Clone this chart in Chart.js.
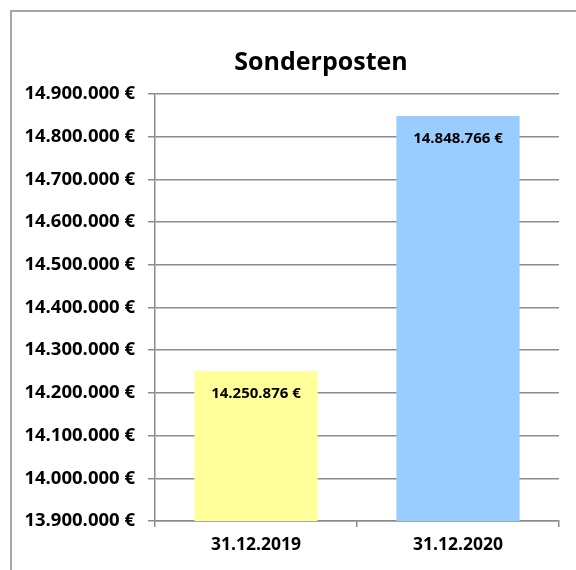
<!DOCTYPE html>
<html>
<head>
<meta charset="utf-8">
<script src="https://cdn.jsdelivr.net/npm/chart.js@4"></script>
<style>
  html, body { margin: 0; padding: 0; background: #ffffff; }
  #wrap { position: relative; width: 576px; height: 570px; overflow: hidden; }
  #frame { position: absolute; left: 10px; top: 10px; width: 700px; height: 700px;
           border-left: 2px solid #a6a6a6; border-top: 2px solid #a6a6a6; box-sizing: border-box; }
  #c { position: absolute; left: 0; top: 0; }
</style>
</head>
<body>
<div id="wrap">
  <div id="frame"></div>
  <canvas id="c" width="576" height="570"></canvas>
</div>
<script>
const categories = ["31.12.2019", "31.12.2020"];
const values = [14250876, 14848766];
const barColors = ["#FFFF99", "#99CCFF"];
const chartTitle = "Sonderposten";
const yMin = 13900000;
const yMax = 14900000;
const yStep = 100000;

function fmtDE(n) {
  return String(Math.round(n)).replace(/\B(?=(\d{3})+(?!\d))/g, ".");
}

const FONT = "'Open Sans', 'Liberation Sans', sans-serif";
const GRID = "#8c8c8c";

const titlePlugin = {
  id: "centeredTitle",
  afterDraw(chart) {
    const ctx = chart.ctx;
    ctx.save();
    ctx.font = "bold 25px " + FONT;
    ctx.fillStyle = "#000000";
    ctx.textAlign = "center";
    ctx.textBaseline = "middle";
    ctx.fillText(chartTitle, 321, 63);
    ctx.restore();
  }
};

const dataLabelPlugin = {
  id: "barValueLabels",
  afterDatasetsDraw(chart) {
    const ctx = chart.ctx;
    const meta = chart.getDatasetMeta(0);
    ctx.save();
    ctx.font = "bold 15px " + FONT;
    ctx.fillStyle = "#000000";
    ctx.textAlign = "center";
    ctx.textBaseline = "middle";
    meta.data.forEach((bar, i) => {
      ctx.fillText(fmtDE(values[i]) + " \u20AC", bar.x, bar.y + 23);
    });
    ctx.restore();
  }
};

new Chart(document.getElementById("c"), {
  type: "bar",
  data: {
    labels: categories,
    datasets: [{
      data: values,
      backgroundColor: barColors,
      borderWidth: 0,
      barPercentage: 0.61,
      categoryPercentage: 1.0
    }]
  },
  options: {
    responsive: false,
    animation: false,
    layout: { padding: { top: 94, left: 0, right: 17, bottom: 0 } },
    plugins: {
      legend: { display: false },
      tooltip: { enabled: false },
      title: { display: false }
    },
    scales: {
      x: {
        offset: true,
        grid: {
          offset: true,
          drawOnChartArea: false,
          drawTicks: true,
          tickLength: 6,
          color: GRID,
          lineWidth: 1.5
        },
        border: { display: true, color: GRID, width: 1.5 },
        ticks: {
          color: "#000000",
          padding: 8,
          font: { family: FONT, size: 17.5, weight: "bold" }
        },
        afterFit(scale) { scale.height = 49; }
      },
      y: {
        min: yMin,
        max: yMax,
        grid: {
          color: GRID,
          lineWidth: 1.5,
          drawTicks: true,
          tickLength: 7
        },
        border: { display: true, color: GRID, width: 1.5 },
        ticks: {
          stepSize: yStep,
          color: "#000000",
          padding: 13,
          font: { family: FONT, size: 18.5, weight: "bold" },
          callback: (v) => fmtDE(v) + " \u20AC"
        },
        afterFit(scale) { scale.width = 155; }
      }
    }
  },
  plugins: [dataLabelPlugin, titlePlugin]
});
</script>
</body>
</html>
